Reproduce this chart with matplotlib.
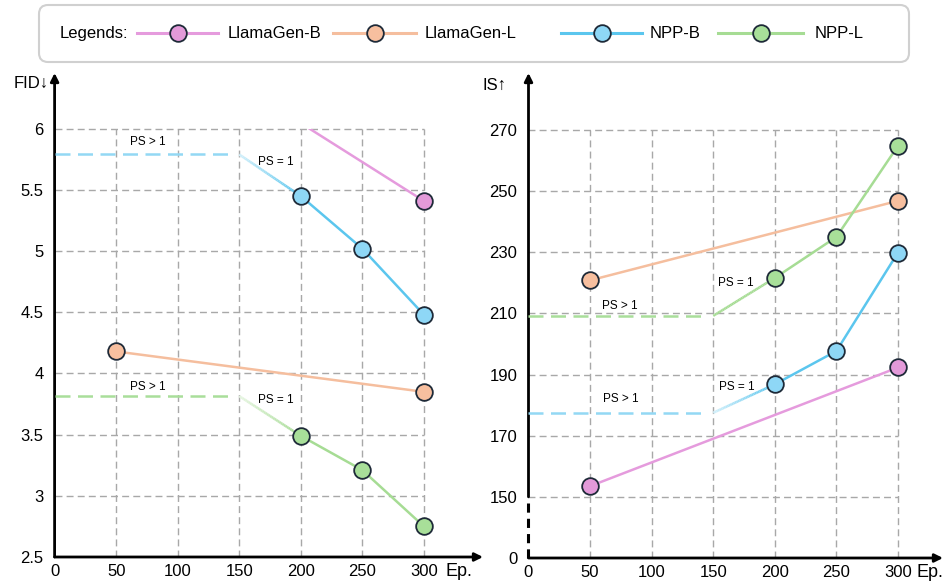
import numpy as np
import matplotlib
matplotlib.use("Agg")
from matplotlib import pyplot as plt
from matplotlib.collections import LineCollection
from matplotlib.patches import FancyBboxPatch, Rectangle
from matplotlib.colors import to_rgb

plt.rcParams['font.family'] = ['Liberation Sans', 'DejaVu Sans']

# data
ticks_ep = [0, 50, 100, 150, 200, 250, 300]
ep_llama = [50, 300]
ep_npp = [200, 250, 300]
ep_ps_end = 150  # PS > 1 region ends here

fid_llamagen_b = [7.0, 5.41]
fid_llamagen_l = [4.18, 3.85]
fid_npp_b = [5.45, 5.02, 4.48]
fid_npp_l = [3.49, 3.21, 2.75]
fid_npp_b_ps = 5.79
fid_npp_l_ps = 3.815
fid_ticks = [2.5, 3, 3.5, 4, 4.5, 5, 5.5, 6]
fid_ticklabels = ['2.5', '3', '3.5', '4', '4.5', '5', '5.5', '6']

is_llamagen_b = [153.5, 192.3]
is_llamagen_l = [220.8, 246.8]
is_npp_b = [186.8, 197.7, 229.9]
is_npp_l = [221.6, 235.0, 264.8]
is_npp_b_ps = 177.5
is_npp_l_ps = 209.2
is_ticks = [130, 150, 170, 190, 210, 230, 250, 270]  # 130 stands for the broken "0"
is_ticklabels = ['0', '150', '170', '190', '210', '230', '250', '270']

names = ['LlamaGen-B', 'LlamaGen-L', 'NPP-B', 'NPP-L']
line_c = ['#E59BDD', '#F5BE9E', '#5BC6EE', '#A6DC94']
face_c = ['#E39AD9', '#F7BF9F', '#8ED7F6', '#A8DF99']
dash_c = ['#E59BDD', '#F5BE9E', '#93D8F4', '#A9DE9A']
edge_c = '#1E2A38'
grid_c = '#A8A8A8'

MS = 12
LW = 1.8


def fade_line(ax, x0, y0, x1, y1, color, fade=True, n=40):
    # light -> full colour segment between PS>1 level and first point
    xs = np.linspace(x0, x1, n + 1)
    ys = np.linspace(y0, y1, n + 1)
    segs = [[(xs[i], ys[i]), (xs[i + 1], ys[i + 1])] for i in range(n)]
    c = np.array(to_rgb(color))
    cols = []
    for i in range(n):
        t = i / (n - 1) if fade else 1.0
        w = 0.72 * (1 - t)
        cols.append(tuple(c * (1 - w) + np.ones(3) * w))
    lc = LineCollection(segs, colors=cols, linewidths=LW, capstyle='butt', zorder=3)
    ax.add_collection(lc)


def setup(ax, xmax, ylo, yhi, ticks, labels, grid_top, grid_ys, ep_x):
    ax.set_xlim(0, xmax)
    ax.set_ylim(ylo, yhi)
    for s in ax.spines.values():
        s.set_visible(False)
    ax.set_xticks(ticks_ep)
    ax.set_xticklabels([str(t) for t in ticks_ep])
    ax.set_yticks(ticks)
    ax.set_yticklabels(labels)
    ax.tick_params(length=0, labelsize=12, colors='black')
    ax.tick_params(axis='x', pad=5)
    ax.tick_params(axis='y', pad=8)
    ax.vlines(ticks_ep[1:], ylo, grid_top, colors=grid_c, linestyles=(0, (5, 3)), lw=1.0, zorder=1)
    ax.hlines(grid_ys, 0, 300, colors=grid_c, linestyles=(0, (5, 3)), lw=1.0, zorder=1)
    ax.annotate('', xy=(1, 0), xytext=(0, 0), xycoords='axes fraction',
                arrowprops=dict(arrowstyle='-|>', lw=2, color='black', mutation_scale=12,
                                shrinkA=0, shrinkB=0))
    ax.text(ep_x, -0.029, 'Ep.', transform=ax.transAxes, ha='right', va='center', fontsize=13)


fig = plt.figure(figsize=(9.45, 5.81), dpi=100)

# ---------- left: FID ----------
ax1 = fig.add_axes([54.6 / 945, 24 / 581, 428.4 / 945, 484 / 581])
setup(ax1, 348, 2.5, 6.456, fid_ticks, fid_ticklabels, 6, fid_ticks[1:], 0.975)
ax1.annotate('', xy=(0, 1), xytext=(0, 0), xycoords='axes fraction',
             arrowprops=dict(arrowstyle='-|>', lw=2, color='black', mutation_scale=12,
                             shrinkA=0, shrinkB=0))
ax1.text(-0.014, 0.979, 'FID↓', transform=ax1.transAxes, ha='right', va='center', fontsize=12)

clip = Rectangle((0, 2.5), 400, 3.5, transform=ax1.transData)
l, = ax1.plot(ep_llama, fid_llamagen_b, color=line_c[0], lw=LW, zorder=3)
l.set_clip_path(clip)
ax1.plot(ep_llama, fid_llamagen_b, 'o', ms=MS, mfc=face_c[0], mec=edge_c, mew=1.3, zorder=5)
ax1.plot(ep_llama, fid_llamagen_l, '-o', color=line_c[1], lw=LW, ms=MS, mfc=face_c[1],
         mec=edge_c, mew=1.3, zorder=4)
for vals, ps, k in [(fid_npp_b, fid_npp_b_ps, 2), (fid_npp_l, fid_npp_l_ps, 3)]:
    ax1.plot([0, ep_ps_end - 4], [ps, ps], color=dash_c[k], lw=LW, dashes=(6, 3), zorder=3)
    fade_line(ax1, ep_ps_end, ps, ep_npp[0], vals[0], line_c[k])
    ax1.plot(ep_npp, vals, '-o', color=line_c[k], lw=LW, ms=MS, mfc=face_c[k],
             mec=edge_c, mew=1.3, zorder=4)
ax1.text(76, 5.89, 'PS > 1', ha='center', va='center', fontsize=8.5)
ax1.text(180, 5.73, 'PS = 1', ha='center', va='center', fontsize=8.5)
ax1.text(76, 3.89, 'PS > 1', ha='center', va='center', fontsize=8.5)
ax1.text(180, 3.78, 'PS = 1', ha='center', va='center', fontsize=8.5)

# ---------- right: IS ----------
ax2 = fig.add_axes([528.5 / 945, 23 / 581, 414.5 / 945, 485 / 581])
setup(ax2, 336.5, 130, 288.6, is_ticks, is_ticklabels, 270, is_ticks[1:], 1.0)
ax2.annotate('', xy=(0, 1), xytext=(0, 150), xycoords='axes fraction',
             textcoords=('axes fraction', 'data'),
             arrowprops=dict(arrowstyle='-|>', lw=2, color='black', mutation_scale=12,
                             shrinkA=0, shrinkB=0))
ax2.plot([0, 0], [130, 150], color='black', lw=2.2, dashes=(3, 2), clip_on=False, zorder=6)
ax2.text(-0.083, 0.975, 'IS↑', transform=ax2.transAxes, ha='center', va='center', fontsize=12)

ax2.plot(ep_llama, is_llamagen_b, '-o', color=line_c[0], lw=LW, ms=MS, mfc=face_c[0],
         mec=edge_c, mew=1.3, zorder=4)
ax2.plot(ep_llama, is_llamagen_l, '-o', color=line_c[1], lw=LW, ms=MS, mfc=face_c[1],
         mec=edge_c, mew=1.3, zorder=4)
for vals, ps, k, fade in [(is_npp_b, is_npp_b_ps, 2, True), (is_npp_l, is_npp_l_ps, 3, False)]:
    ax2.plot([0, ep_ps_end - 4], [ps, ps], color=dash_c[k], lw=LW, dashes=(6, 3), zorder=3)
    fade_line(ax2, ep_ps_end, ps, ep_npp[0], vals[0], line_c[k], fade=fade)
    ax2.plot(ep_npp, vals, '-o', color=line_c[k], lw=LW, ms=MS, mfc=face_c[k],
             mec=edge_c, mew=1.3, zorder=4)
ax2.text(74, 212.4, 'PS > 1', ha='center', va='center', fontsize=8.5)
ax2.text(168, 220, 'PS = 1', ha='center', va='center', fontsize=8.5)
ax2.text(75, 182, 'PS > 1', ha='center', va='center', fontsize=8.5)
ax2.text(169, 186, 'PS = 1', ha='center', va='center', fontsize=8.5)

# ---------- legend box ----------
axl = fig.add_axes([0, 1 - 70 / 581, 1, 70 / 581])
axl.set_xlim(0, 945)
axl.set_ylim(0, 70)
axl.axis('off')
axl.add_patch(FancyBboxPatch((39, 8), 870, 57, boxstyle='round,pad=0,rounding_size=9',
                             fc='white', ec='#D0D0D0', lw=1.5))
yc = 36.5
axl.text(60, yc, 'Legends:', ha='left', va='center', fontsize=12)
leg_x = [(137, 218), (333, 416), (561, 642), (718, 803)]
txt_x = [228, 425, 650, 815]
for k in range(4):
    x0, x1 = leg_x[k]
    axl.plot([x0, x1], [yc, yc], color=line_c[k], lw=2.2)
    axl.plot([(x0 + x1) / 2], [yc], 'o', ms=MS, mfc=face_c[k], mec=edge_c, mew=1.3)
    axl.text(txt_x[k], yc, names[k], ha='left', va='center', fontsize=12)

fig.savefig('out.png', dpi=100)
